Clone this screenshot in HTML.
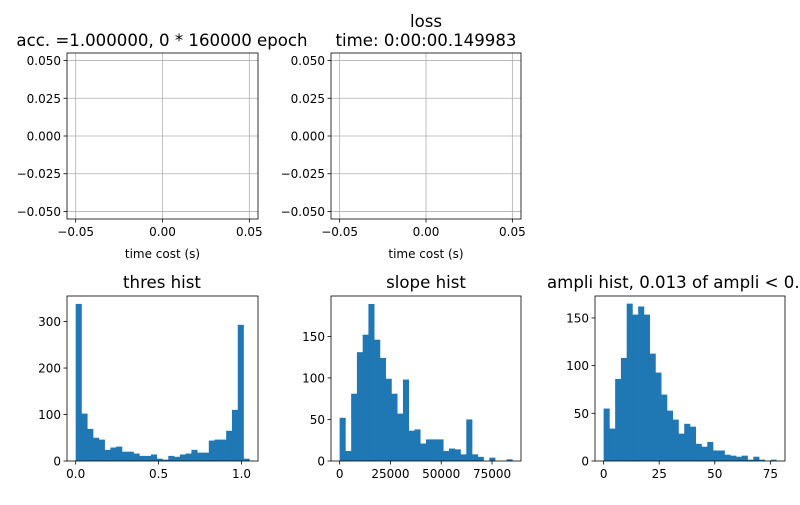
<!DOCTYPE html>
<html><head><meta charset="utf-8"><style>
body{margin:0;background:#fff;overflow:hidden;}
svg text{font-family:"DejaVu Sans","Liberation Sans",sans-serif;fill:#000;}
</style></head><body>
<svg id="fig" width="800" height="500" viewBox="0 0 800 500" xmlns="http://www.w3.org/2000/svg"></svg>
<script>
const topTicks = [-0.05, -0.025, 0, 0.025, 0.05];
const topXTicks = [-0.05, 0, 0.05];
const thresCounts = [338,102,69,50,46,24,29,31,20,20,16,11,11,14,5,3,11,9,14,16,24,18,18,44,46,46,65,110,293,5];
const thresRange = [0, 1.047];
const thresXTicks = [0, 0.5, 1.0];
const thresXLabels = ["0.0","0.5","1.0"];
const thresYTicks = [0,100,200,300];
const slopeCounts = [52,12,81,131,152,189,146,124,99,81,57,98,36.5,38,21,26,26,26,12,15,14,8,50,8,5,0,4,0,0,2];
const slopeRange = [0, 85000];
const slopeXTicks = [0,25000,50000,75000];
const slopeYTicks = [0,50,100,150];
const ampliCounts = [55,34,86,108,165,153.5,162,153.5,112.6,92.7,69.6,52.8,43.4,28.7,39,36,18,15,20,11,11,6.6,5.6,4.5,5.6,1.4,4.5,1.4,0,1.4];
const ampliRange = [0, 77.7];
const ampliXTicks = [0,25,50,75];
const ampliYTicks = [0,50,100,150];

const svg = document.getElementById('fig');
const NS = 'http://www.w3.org/2000/svg';
function el(tag, attrs, parent){
  const e = document.createElementNS(NS, tag);
  for (const k in attrs) e.setAttribute(k, attrs[k]);
  (parent||svg).appendChild(e);
  return e;
}
function txt(x,y,s,size,anchor,parent){
  const t = el('text',{x:x,y:y,'font-size':size,'text-anchor':anchor||'middle'},parent);
  t.textContent = s;
  return t;
}
function scale(d0,d1,r0,r1){return v=>r0+(v-d0)*(r1-r0)/(d1-d0);}

function topAxes(x0,x1,name,xlabel){
  const g = el('g',{});
  
  
  const y0=53,y1=219;
  const sx=scale(-0.055,0.055,x0,x1), sy=scale(-0.055,0.055,y1,y0);
  topXTicks.forEach(v=>{
    const x=sx(v);
    el('line',{x1:x,x2:x,y1:y0,y2:y1,stroke:'#b0b0b0','stroke-width':0.8},g);
    el('line',{x1:x,x2:x,y1:y1,y2:y1+3.5,stroke:'#000','stroke-width':0.8},g);
    txt(x,y1+17,(v<0?'\u22120.05':v===0?'0.00':'0.05'),12,'middle',g);
  });
  topTicks.forEach(v=>{
    const y=sy(v);
    el('line',{x1:x0,x2:x1,y1:y,y2:y,stroke:'#b0b0b0','stroke-width':0.8},g);
    el('line',{x1:x0-3.5,x2:x0,y1:y,y2:y,stroke:'#000','stroke-width':0.8},g);
    const s=(v<0?'\u2212':'')+Math.abs(v).toFixed(3);
    txt(x0-6,y+4.5,s,12,'end',g);
  });
  el('rect',{x:x0,y:y0,width:x1-x0,height:y1-y0,fill:'none',stroke:'#000','stroke-width':0.8},g);
  txt((x0+x1)/2,y1+39,xlabel,12,'middle',g);
}
topAxes(67,258,'acc-axes','time cost (s)');
topAxes(331,521,'loss-axes','time cost (s)');

function hist(x0,x1,counts,range,ymax,xt,xl,yt,name){
  const g = el('g',{});
  
  
  const y0=296,y1=461;
  const dpad=(range[1]-range[0])*0.05;
  const sx=scale(range[0]-dpad,range[1]+dpad,x0,x1), sy=scale(0,ymax,y1,y0);
  const w=(range[1]-range[0])/counts.length;
  counts.forEach((c,i)=>{
    if(c<=0) return;
    const a=sx(range[0]+i*w), b=sx(range[0]+(i+1)*w);
    const r=el('rect',{x:a,y:sy(c),width:b-a+0.3,height:y1-sy(c),fill:'#1f77b4'},g);
    
    
  });
  xt.forEach((v,i)=>{
    const x=sx(v);
    el('line',{x1:x,x2:x,y1:y1,y2:y1+3.5,stroke:'#000','stroke-width':0.8},g);
    txt(x,y1+17,xl[i],12,'middle',g);
  });
  yt.forEach(v=>{
    const y=sy(v);
    el('line',{x1:x0-3.5,x2:x0,y1:y,y2:y,stroke:'#000','stroke-width':0.8},g);
    txt(x0-6,y+4.5,String(v),12,'end',g);
  });
  el('rect',{x:x0,y:y0,width:x1-x0,height:y1-y0,fill:'none',stroke:'#000','stroke-width':0.8},g);
}
hist(67,258,thresCounts,thresRange,355,thresXTicks,thresXLabels,thresYTicks,'thres-hist-axes');
hist(331,521,slopeCounts,slopeRange,198.6,slopeXTicks,slopeXTicks.map(String),slopeYTicks,'slope-hist-axes');
hist(595,785,ampliCounts,ampliRange,173,ampliXTicks,ampliXTicks.map(String),ampliYTicks,'ampli-hist-axes');

const titles=[
  [162,46,'acc. =1.000000, 0 * 160000 epoch','middle','acc-title'],
  [426,27,'loss','middle','loss-title'],
  [426,46,'time: 0:00:00.149983','middle','time-title'],
  [162,288,'thres hist','middle','thres-title'],
  [426,288,'slope hist','middle','slope-title'],
  [547,288,'ampli hist, 0.013 of ampli < 0.','start','ampli-title']
];
titles.forEach(t=>{
  const e=txt(t[0],t[1],t[2],16.6,t[3]);
  
  
});
</script>
</body></html>
